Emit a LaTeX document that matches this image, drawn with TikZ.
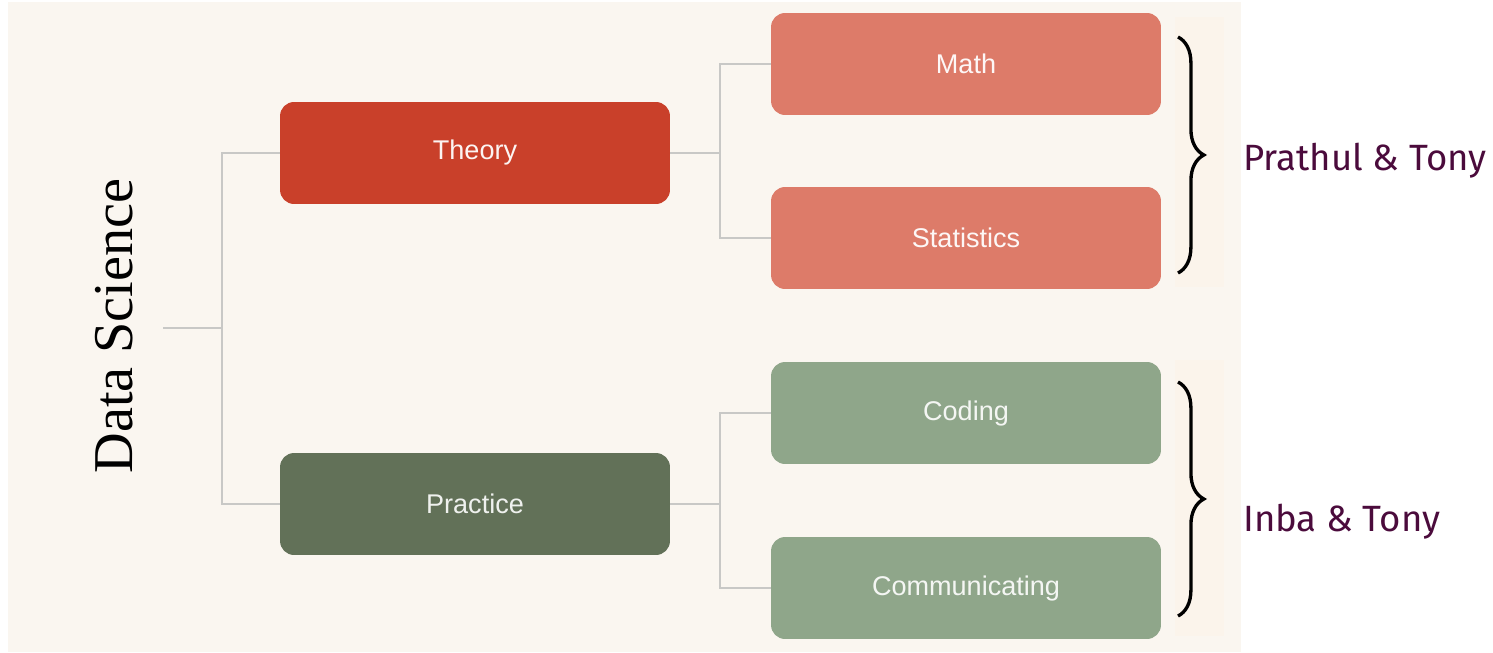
\documentclass[tikz,border=0pt]{standalone}
\usepackage{fontspec}
\setmainfont{Liberation Serif}
\newfontfamily\boxfont{Liberation Sans}
\newfontfamily\namefont{Fira Sans}
\usetikzlibrary{decorations.pathreplacing}

\definecolor{paper}{RGB}{250,246,240}
\definecolor{peach}{RGB}{251,244,235}
\definecolor{theoryred}{HTML}{C9402A}
\definecolor{theorylight}{HTML}{DD7B69}
\definecolor{practicegreen}{HTML}{627158}
\definecolor{practicelight}{HTML}{8FA68A}
\definecolor{linkgray}{RGB}{200,200,198}
\definecolor{plum}{HTML}{4B0B3C}

\begin{document}
\begin{tikzpicture}[
  x=0.02cm, y=-0.02cm,
  box/.style={rounded corners=8pt, minimum width=7.8cm, minimum height=2.04cm,
    inner sep=0pt, font=\boxfont\fontsize{15.4}{18}\selectfont},
  link/.style={linkgray, line width=1.2pt},
  group brace/.style={decorate, decoration={brace, amplitude=14.7pt},
    line width=1.9pt, black},
  who/.style={anchor=base west, inner sep=0pt, plum,
    font=\namefont\fontsize{20.8}{26}\selectfont}
]
  \useasboundingbox (0,0) rectangle (1493,652);

  % Background panel and the faint strips behind the braces
  \fill[paper] (8,2) rectangle (1241,652);
  \fill[peach] (1175,17) rectangle (1224,287);
  \fill[peach] (1175,360) rectangle (1224,636);

  % Root label
  \node[rotate=90, font=\fontsize{32}{38}\selectfont] (ds) at (114,326) {Data Science};
  \coordinate (root) at (163,328);

  % First level
  \node[box, fill=theoryred, text=white!94!theoryred] (theory) at (475,153) {Theory};
  \node[box, fill=practicegreen, text=white!90!practicegreen] (practice) at (475,504) {Practice};

  % Second level
  \node[box, fill=theorylight, text=white!94!theorylight] (math) at (966,64) {Math};
  \node[box, fill=theorylight, text=white!94!theorylight] (stats) at (966,238) {Statistics};
  \node[box, fill=practicelight, text=white!90!practicelight] (coding) at (966,413) {Coding};
  \node[box, fill=practicelight, text=white!90!practicelight] (comm) at (966,588) {Communicating};

  % Tree connectors
  \draw[link] (root) -- ++(59,0) |- (theory.west);
  \draw[link] (root) -- ++(59,0) |- (practice.west);
  \draw[link] (theory.east) -- ++(50,0) |- (math.west);
  \draw[link] (theory.east) -- ++(50,0) |- (stats.west);
  \draw[link] (practice.east) -- ++(50,0) |- (coding.west);
  \draw[link] (practice.east) -- ++(50,0) |- (comm.west);

  % Braces and who covers each part
  \coordinate (b1top) at (1178,37);
  \coordinate (b1bot) at (1178,273);
  \coordinate (b2top) at (1178,382);
  \coordinate (b2bot) at (1178,616);
  \draw[group brace] (b1top) -- (b1bot);
  \draw[group brace] (b2top) -- (b2bot);

  \node[who] (theorynames) at (1243,170) {Prathul \& Tony};
  \node[who] (practicenames) at (1243,531) {Inba \& Tony};

\end{tikzpicture}
\end{document}
